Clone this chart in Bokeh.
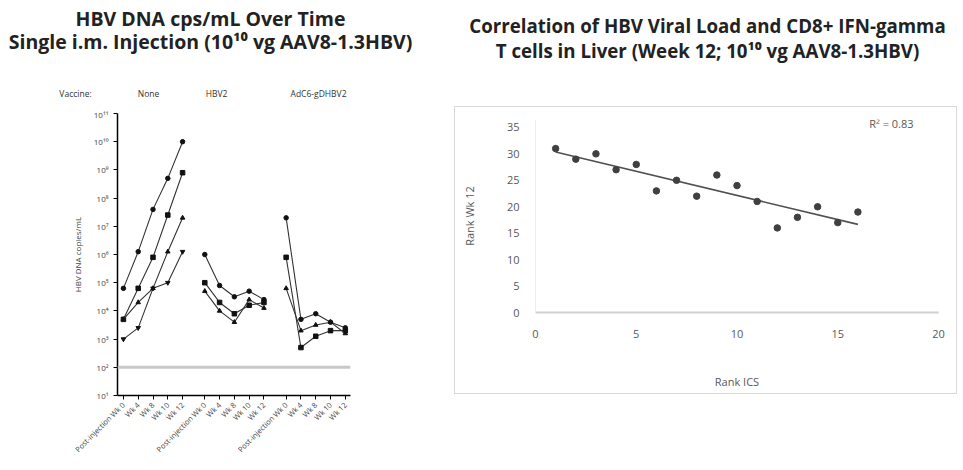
import math
import numpy as np
from bokeh.plotting import figure
from bokeh.models import Range1d, FixedTicker, Label, Span, Spacer
from bokeh.layouts import row, column
from bokeh.embed import file_html
from bokeh.resources import INLINE

FONT = "Open Sans"

# ---------------- Left panel data ----------------
time_labels = ["Wk 0", "Wk 4", "Wk 8", "Wk 10", "Wk 12"]
first_time_label = "Post-injection Wk 0"
groups = ["None", "HBV2", "AdC6-gDHBV2"]
group_offsets = [0.0, 5.5, 11.0]
# log10 HBV DNA copies/mL per animal, 5 time points
none_log10 = [
    [4.8, 6.1, 7.6, 8.7, 10.0],
    [3.7, 4.8, 5.9, 7.4, 8.9],
    [3.7, 4.3, 4.8, 6.1, 7.3],
    [3.0, 3.4, 4.8, 5.0, 6.1],
]
hbv2_log10 = [
    [6.0, 4.9, 4.5, 4.7, 4.4],
    [5.0, 4.3, 3.9, 4.2, 4.3],
    [4.7, 4.0, 3.6, 4.4, 4.1],
]
adc6_log10 = [
    [7.3, 3.7, 3.9, 3.6, 3.4],
    [5.9, 2.7, 3.1, 3.3, 3.3],
    [4.8, 3.3, 3.5, 3.6, 3.2],
]
y_exponents = list(range(1, 12))
lloq_copies = 1e2

# ---------------- Right panel data ----------------
ics_rank = [1, 2, 3, 4, 5, 6, 7, 8, 9, 10, 11, 12, 13, 14, 15, 16]
wk12_rank = [31, 29, 30, 27, 28, 23, 25, 22, 26, 24, 21, 16, 18, 20, 17, 19]
r2_text = "R² = 0.83"
x_ticks_right = [0, 5, 10, 15, 20]
y_ticks_right = [0, 5, 10, 15, 20, 25, 30, 35]

SUP = str.maketrans("0123456789", "⁰¹²³⁴⁵⁶⁷⁸⁹")
TITLE_KW = dict(text_align="center", text_baseline="middle",
                text_font_style="bold", text_font=FONT, text_color="#222222")

# ================= Left title/header figure =================
pt1 = figure(width=438, height=108, output_backend="svg", toolbar_location=None,
             x_range=Range1d(0, 438), y_range=Range1d(108, 0),
             x_axis_location=None, y_axis_location=None, min_border=0)
pt1.frame_align = False
pt1.grid.visible = False
pt1.outline_line_color = None
pt1.add_layout(Label(x=210, y=18, text="HBV DNA cps/mL Over Time",
                     text_font_size="19.5px", **TITLE_KW))
pt1.add_layout(Label(x=210, y=41, text="Single i.m. Injection (10¹⁰ vg AAV8-1.3HBV)",
                     text_font_size="19.5px", **TITLE_KW))
hdr_kw = dict(text_align="center", text_baseline="middle", text_font_size="8.5px",
              text_font=FONT, text_color="#333333")
pt1.add_layout(Label(x=75, y=93, text="Vaccine:", **hdr_kw))
hdr_x = [148, 216, 318]
for gi, g in enumerate(groups):
    pt1.add_layout(Label(x=hdr_x[gi], y=93, text=g, **hdr_kw))

# ================= Left chart =================
p1 = figure(width=438, height=360, output_backend="svg", toolbar_location=None,
            y_axis_type="log", x_range=Range1d(-0.4, 15.35),
            y_range=Range1d(10.0 ** 1, 10.0 ** 11),
            min_border_left=117, min_border_right=88,
            min_border_top=5, min_border_bottom=73)
p1.frame_align = False
p1.outline_line_color = None
p1.grid.visible = False

p1.add_layout(Span(location=lloq_copies, dimension="width",
                   line_color="#c8c8c8", line_width=3))

markers = ["circle", "square", "triangle", "inverted_triangle"]
all_groups = [none_log10, hbv2_log10, adc6_log10]
for gi, gdata in enumerate(all_groups):
    xs = [group_offsets[gi] + t for t in range(len(time_labels))]
    for ai, animal in enumerate(gdata):
        ys = [10.0 ** v for v in animal]
        p1.line(xs, ys, line_color="#333333", line_width=1.1)
        p1.scatter(xs, ys, marker=markers[ai % len(markers)], size=4.5,
                   fill_color="#111111", line_color="#111111")

yt = [10.0 ** e for e in y_exponents]
p1.yaxis.ticker = FixedTicker(ticks=yt)
p1.yaxis.major_label_overrides = {10.0 ** e: "10" + str(e).translate(SUP) for e in y_exponents}
p1.yaxis.axis_label = "HBV DNA copies/mL"
p1.yaxis.axis_label_text_font_size = "8px"
p1.yaxis.axis_label_text_font_style = "normal"
p1.yaxis.axis_label_text_font = FONT
p1.yaxis.axis_label_standoff = 8
p1.yaxis.major_label_text_font_size = "8px"
p1.yaxis.major_label_text_font = FONT
p1.yaxis.major_tick_out = 4
p1.yaxis.major_tick_in = 0
p1.yaxis.minor_tick_line_color = None
p1.yaxis.axis_line_width = 1.5

xt = []
xo = {}
for gi in range(len(groups)):
    for ti, lab in enumerate(time_labels):
        v = float(group_offsets[gi] + ti)
        xt.append(v)
        xo[v] = first_time_label if ti == 0 else lab
p1.xaxis.ticker = FixedTicker(ticks=xt)
p1.xaxis.major_label_overrides = xo
p1.xaxis.major_label_orientation = math.pi / 4
p1.xaxis.major_label_text_font_size = "7.5px"
p1.xaxis.major_label_text_font = FONT
p1.xaxis.major_label_standoff = 4
p1.xaxis.major_tick_out = 4
p1.xaxis.major_tick_in = 0
p1.xaxis.minor_tick_line_color = None
p1.xaxis.axis_line_width = 1.5

# ================= Right title figure =================
pt = figure(width=503, height=106, output_backend="svg", toolbar_location=None,
            x_range=Range1d(0, 503), y_range=Range1d(106, 0),
            x_axis_location=None, y_axis_location=None, min_border=0)
pt.frame_align = False
pt.grid.visible = False
pt.outline_line_color = None
pt.add_layout(Label(x=253, y=25, text="Correlation of HBV Viral Load and CD8+ IFN-gamma",
                    text_font_size="18.7px", **TITLE_KW))
pt.add_layout(Label(x=253, y=50, text="T cells in Liver (Week 12; 10¹⁰ vg AAV8-1.3HBV)",
                    text_font_size="18.7px", **TITLE_KW))

# ================= Right scatter figure =================
p2 = figure(width=503, height=288, output_backend="svg", toolbar_location=None,
            x_range=Range1d(0, 20), y_range=Range1d(0, 36.5),
            min_border_left=80, min_border_right=20, min_border_top=12, min_border_bottom=83)
p2.frame_align = False
p2.styles = {"border": "1px solid #d9d9d9"}
p2.outline_line_color = None
p2.grid.visible = False

coef = np.polyfit(ics_rank, wk12_rank, 1)
fx = [min(ics_rank), max(ics_rank)]
fy = [coef[0] * v + coef[1] for v in fx]
p2.line(fx, fy, line_color="#505050", line_width=1.6)
p2.scatter(ics_rank, wk12_rank, size=6.5, fill_color="#404040", line_color="#404040")

for ax in (p2.xaxis, p2.yaxis):
    ax.major_tick_line_color = None
    ax.minor_tick_line_color = None
    ax.major_tick_out = 0
    ax.major_tick_in = 0
    ax.major_label_text_font_size = "11px"
    ax.major_label_text_color = "#595959"
    ax.major_label_text_font = FONT
    ax.axis_label_text_font_size = "11px"
    ax.axis_label_text_font_style = "normal"
    ax.axis_label_text_color = "#595959"
    ax.axis_label_text_font = FONT
p2.xaxis.ticker = FixedTicker(ticks=x_ticks_right)
p2.yaxis.ticker = FixedTicker(ticks=y_ticks_right)
p2.xaxis.axis_line_color = "#d0d0d0"
p2.xaxis.axis_line_width = 2
p2.yaxis.axis_line_color = "#eeeeee"
p2.xaxis.major_label_standoff = 17
p2.yaxis.major_label_standoff = 16
p2.xaxis.axis_label = "Rank ICS"
p2.xaxis.axis_label_standoff = 33
p2.yaxis.axis_label = "Rank Wk 12"
p2.yaxis.axis_label_standoff = 27

p2.add_layout(Label(x=17.66, y=35.7, text=r2_text, text_align="center",
                    text_baseline="middle", text_font_size="11px",
                    text_color="#595959", text_font=FONT))

layout = row(column(pt1, p1), Spacer(width=16, height=10), column(pt, p2))

open("out.html", "w").write(file_html(layout, INLINE))
